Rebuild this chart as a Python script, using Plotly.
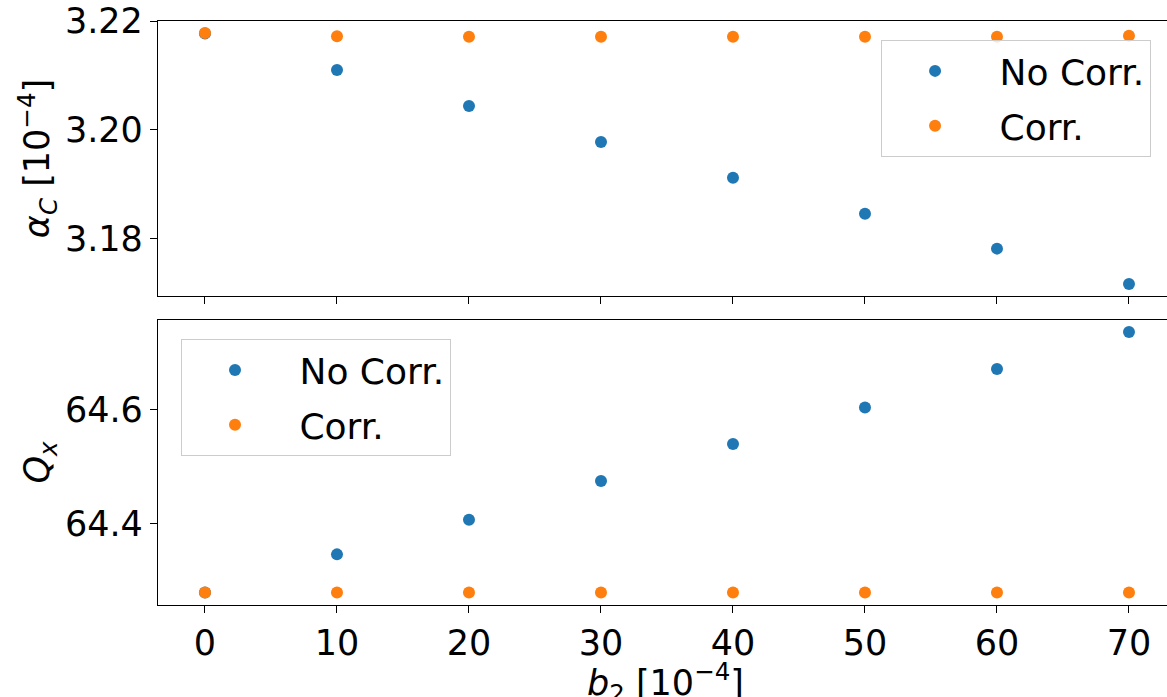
import plotly.graph_objects as go
from plotly.subplots import make_subplots

b2 = [0, 10, 20, 30, 40, 50, 60, 70]
alpha_nocorr = [3.2177, 3.2110, 3.2044, 3.1978, 3.1912, 3.1846, 3.1782, 3.1717]
alpha_corr = [3.2178, 3.2172, 3.2171, 3.2171, 3.2171, 3.2171, 3.2171, 3.2173]
qx_nocorr = [64.279, 64.346, 64.407, 64.475, 64.540, 64.604, 64.672, 64.737]
qx_corr = [64.279, 64.279, 64.279, 64.279, 64.279, 64.279, 64.279, 64.279]

BLUE = "#1f77b4"
ORANGE = "#ff7f0e"
FONT = "DejaVu Sans"
FS = 35
LFS = 36
NB = "\u00a0"

fig = make_subplots(rows=2, cols=1, shared_xaxes=True, vertical_spacing=0.0)

fig.add_trace(go.Scatter(x=b2, y=alpha_nocorr, mode="markers", name=NB + "No Corr.",
                         marker=dict(color=BLUE, size=12), legend="legend",
                         legendgroup="a1"), row=1, col=1)
fig.add_trace(go.Scatter(x=b2, y=alpha_corr, mode="markers", name=NB + "Corr.",
                         marker=dict(color=ORANGE, size=12), legend="legend",
                         legendgroup="a2"), row=1, col=1)
fig.add_trace(go.Scatter(x=b2, y=qx_nocorr, mode="markers", name=NB + "No Corr.",
                         marker=dict(color=BLUE, size=12), legend="legend2",
                         legendgroup="b1"), row=2, col=1)
fig.add_trace(go.Scatter(x=b2, y=qx_corr, mode="markers", name=NB + "Corr.",
                         marker=dict(color=ORANGE, size=12), legend="legend2",
                         legendgroup="b2"), row=2, col=1)

axis_common = dict(showline=True, linecolor="black", linewidth=1.2, ticks="outside",
                   ticklen=7, tickwidth=1.2, tickcolor="black", showgrid=False,
                   zeroline=False, automargin=False,
                   tickfont=dict(family=FONT, size=FS, color="black"))

fig.update_xaxes(**axis_common, range=[-3.56, 72.88], tickvals=b2, mirror=True)
fig.update_xaxes(showticklabels=False, row=1, col=1)

fig.update_yaxes(**axis_common, mirror=False)
fig.update_yaxes(range=[3.1695, 3.22], tickvals=[3.18, 3.20, 3.22],
                 ticktext=["3.18", "3.20", "3.22"],
                 title=dict(text="<i>α</i><sub><i>C</i></sub> [10<sup>−4</sup>]",
                            font=dict(family=FONT, size=FS, color="black"), standoff=4),
                 domain=[0.5291, 1.0], row=1, col=1)
fig.update_yaxes(range=[64.257, 64.758], tickvals=[64.4, 64.6],
                 ticktext=["64.4", "64.6"],
                 title=dict(text="<i>Q</i><sub><i>x</i></sub>",
                            font=dict(family=FONT, size=FS, color="black"), standoff=4),
                 domain=[0.0, 0.488], row=2, col=1)

fig.add_annotation(text="<i>b</i><sub>2</sub> [10<sup>−4</sup>]",
                   xref="paper", yref="paper", x=0.503, y=0, xanchor="center",
                   yanchor="top", yshift=-50, showarrow=False,
                   font=dict(family=FONT, size=FS, color="black"))

legend_common = dict(font=dict(family=FONT, size=LFS, color="black"),
                     bgcolor="rgba(255,255,255,0.8)", bordercolor="#cccccc",
                     borderwidth=1, xanchor="left", yanchor="top",
                     tracegroupgap=5, itemwidth=96)
fig.update_layout(
    width=1167, height=697,
    margin=dict(l=158, r=0, t=21, b=92),
    plot_bgcolor="white", paper_bgcolor="white",
    font=dict(family=FONT, size=FS, color="black"),
    legend=dict(**legend_common, x=0.7166, y=0.9675),
    legend2=dict(**legend_common, x=0.0228, y=0.4555),
)

fig.write_html("out.html", config={"displayModeBar": False},
               post_script="document.body.style.margin='0';document.body.style.overflow='hidden';")
